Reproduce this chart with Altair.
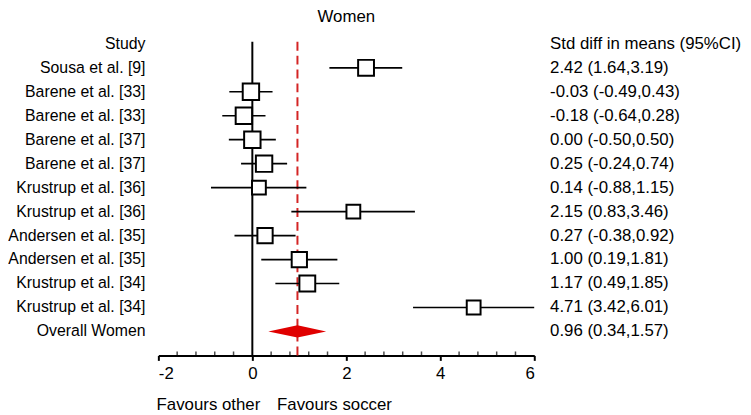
import altair as alt
import pandas as pd

# ---- data ----
studies = ["Sousa et al. [9]", "Barene et al. [33]", "Barene et al. [33]",
           "Barene et al. [37]", "Barene et al. [37]", "Krustrup et al. [36]",
           "Krustrup et al. [36]", "Andersen et al. [35]", "Andersen et al. [35]",
           "Krustrup et al. [34]", "Krustrup et al. [34]"]
smd = [2.42, -0.03, -0.18, 0.00, 0.25, 0.14, 2.15, 0.27, 1.00, 1.17, 4.71]
lower = [1.64, -0.49, -0.64, -0.50, -0.24, -0.88, 0.83, -0.38, 0.19, 0.49, 3.42]
upper = [3.19, 0.43, 0.28, 0.50, 0.74, 1.15, 3.46, 0.92, 1.81, 1.85, 6.01]
weights = [9.3, 9.6, 9.6, 9.6, 9.6, 8.3, 8.3, 9.0, 9.0, 9.3, 8.3]

overall_label = "Overall Women"
overall_mean = 0.96
overall_lower = 0.34
overall_upper = 1.57

header_left = "Study"
header_right = "Std diff in means (95%CI)"
title_text = "Women"
favours_left = "Favours other"
favours_right = "Favours soccer"

x_ticks = [-2, 0, 2, 4, 6]
minor_ticks = [-1.6, -1.2, -0.8, -0.4, 0.4, 0.8, 1.2, 1.6,
               2.4, 2.8, 3.2, 3.6, 4.4, 4.8, 5.2, 5.6]

# ---- layout constants ----
W, H = 380, 317
FONT = "Liberation Sans"
FS = 17
FS_LEFT = 16
n = len(studies)

def fmt(m, l, u):
    return f"{m:.2f} ({l:.2f},{u:.2f})"

df = pd.DataFrame({
    "row": list(range(1, n + 1)),
    "study": studies, "smd": smd, "lower": lower, "upper": upper,
    "weight": weights,
    "ci": [fmt(m, l, u) for m, l, u in zip(smd, lower, upper)],
})

labels = pd.DataFrame({
    "row": [0] + list(range(1, n + 1)) + [n + 1],
    "left": [header_left] + studies + [overall_label],
    "right": [header_right] + list(df["ci"]) + [fmt(overall_mean, overall_lower, overall_upper)],
})

half = 0.255
diamond = pd.DataFrame({
    "x": [overall_lower, overall_mean, overall_upper],
    "y": [n + 1, n + 1 - half, n + 1],
    "y2": [n + 1, n + 1 + half, n + 1],
})

xs = alt.Scale(domain=[-2, 6], nice=False, zero=False)
ys = alt.Scale(domain=[-0.0825, n + 2], nice=False, zero=False, reverse=True)

xaxis = alt.Axis(values=x_ticks, title=None, grid=False, domainColor="black",
                 domainWidth=2, tickColor="black", tickWidth=2, tickSize=5,
                 labelFont=FONT, labelFontSize=FS, labelColor="black",
                 labelPadding=5, labelExpr="'' + datum.value")

base = alt.Chart(df)

zero_line = alt.Chart(pd.DataFrame({"x": [0]})).mark_rule(
    color="black", strokeWidth=2).encode(
    x=alt.X("x:Q", scale=xs, axis=xaxis), y=alt.value(0), y2=alt.value(H))

mean_line = alt.Chart(pd.DataFrame({"x": [overall_mean]})).mark_rule(
    color="#d42424", strokeWidth=2, strokeDash=[9, 5]).encode(
    x=alt.X("x:Q", scale=xs), y=alt.value(0), y2=alt.value(H))

ci = base.mark_rule(color="black", strokeWidth=1.7, clip=True).encode(
    x=alt.X("lower:Q", scale=xs), x2="upper:Q",
    y=alt.Y("row:Q", scale=ys, axis=None))

squares = base.mark_point(shape="square", filled=True, fill="white",
                          stroke="black", strokeWidth=2, opacity=1).encode(
    x=alt.X("smd:Q", scale=xs), y=alt.Y("row:Q", scale=ys),
    size=alt.Size("weight:Q", scale=alt.Scale(domain=[8.3, 9.6], range=[195, 275]),
                  legend=None))

dia = alt.Chart(diamond).mark_area(color="#e00000", opacity=1).encode(
    x=alt.X("x:Q", scale=xs), y=alt.Y("y:Q", scale=ys), y2="y2:Q")

left_text = alt.Chart(labels).mark_text(
    align="right", baseline="middle", font=FONT, fontSize=FS_LEFT, color="black").encode(
    x=alt.value(-13), y=alt.Y("row:Q", scale=ys), text="left:N")

right_text = alt.Chart(labels).mark_text(
    align="left", baseline="middle", font=FONT, fontSize=FS, color="black").encode(
    x=alt.value(396), y=alt.Y("row:Q", scale=ys), text="right:N")

title = alt.Chart(pd.DataFrame({"t": [title_text]})).mark_text(
    align="center", baseline="middle", font=FONT, fontSize=FS, color="black").encode(
    x=alt.value(W / 2), y=alt.value(-25), text="t:N")

fav = alt.Chart(pd.DataFrame({"x": [0, 0], "t": [favours_left, favours_right],
                              "side": ["l", "r"]}))
fav_l = fav.transform_filter("datum.side == 'l'").mark_text(
    align="right", baseline="middle", font=FONT, fontSize=FS, color="black", dx=8).encode(
    x=alt.X("x:Q", scale=xs), y=alt.value(H + 50), text="t:N")
fav_r = fav.transform_filter("datum.side == 'r'").mark_text(
    align="left", baseline="middle", font=FONT, fontSize=FS, color="black", dx=25).encode(
    x=alt.X("x:Q", scale=xs), y=alt.value(H + 50), text="t:N")

minor = alt.Chart(pd.DataFrame({"x": minor_ticks})).mark_tick(
    color="black", thickness=1.5, size=4, orient="vertical").encode(
    x=alt.X("x:Q", scale=xs), y=alt.value(H - 2))

chart = alt.layer(zero_line, mean_line, ci, squares, dia, left_text, right_text,
                  title, fav_l, fav_r, minor).properties(
    width=W, height=H,
    padding={"left": 152, "top": 32, "right": 211, "bottom": 58},
    autosize=alt.AutoSizeParams(type="none"),
    background="white",
).configure_view(stroke=None)

chart.save("out.html", embed_options={"renderer": "svg", "actions": False})
